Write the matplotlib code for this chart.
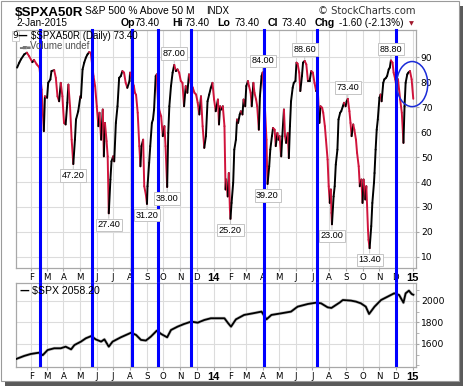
import matplotlib
matplotlib.use('Agg')
import matplotlib.pyplot as plt
import matplotlib.dates as mdates
from matplotlib.collections import LineCollection
from matplotlib.patches import Ellipse, Rectangle
import numpy as np
import pandas as pd

W, H = 464, 387

# S&P 500 % above 50-day MA
pct_dates = [
    '2013-01-06', '2013-01-10', '2013-01-13', '2013-01-19', '2013-01-24', '2013-01-28',
    '2013-02-03', '2013-02-06', '2013-02-11', '2013-02-16', '2013-02-20', '2013-02-24',
    '2013-02-26', '2013-03-02', '2013-03-04', '2013-03-08', '2013-03-10', '2013-03-15',
    '2013-03-18', '2013-03-21', '2013-03-24', '2013-03-27', '2013-03-30', '2013-04-02',
    '2013-04-05', '2013-04-08', '2013-04-10', '2013-04-13', '2013-04-16', '2013-04-19',
    '2013-04-22', '2013-04-24', '2013-04-28', '2013-05-02', '2013-05-03', '2013-05-06',
    '2013-05-09', '2013-05-12', '2013-05-15', '2013-05-18', '2013-05-21', '2013-05-26',
    '2013-05-29', '2013-06-01', '2013-06-04', '2013-06-06', '2013-06-09', '2013-06-12',
    '2013-06-14', '2013-06-16', '2013-06-19', '2013-06-21', '2013-06-23', '2013-06-26',
    '2013-06-28', '2013-07-01', '2013-07-03', '2013-07-06', '2013-07-09', '2013-07-12',
    '2013-07-15', '2013-07-18', '2013-07-21', '2013-07-24', '2013-07-27', '2013-07-31',
    '2013-08-01', '2013-08-08', '2013-08-10', '2013-08-12', '2013-08-15', '2013-08-18',
    '2013-08-20', '2013-08-22', '2013-08-25', '2013-08-27', '2013-08-30', '2013-09-01',
    '2013-09-02', '2013-09-05', '2013-09-07', '2013-09-10', '2013-09-12', '2013-09-14',
    '2013-09-17', '2013-09-19', '2013-09-21', '2013-09-24', '2013-09-27', '2013-09-30',
    '2013-10-03', '2013-10-05', '2013-10-08', '2013-10-10', '2013-10-12', '2013-10-15',
    '2013-10-18', '2013-10-21', '2013-10-24', '2013-10-27', '2013-10-30', '2013-11-02',
    '2013-11-05', '2013-11-08', '2013-11-11', '2013-11-14', '2013-11-17', '2013-11-20',
    '2013-11-24', '2013-11-27', '2013-11-30', '2013-12-03', '2013-12-06', '2013-12-09',
    '2013-12-12', '2013-12-15', '2013-12-18', '2013-12-21', '2013-12-24', '2013-12-27',
    '2013-12-30', '2014-01-02', '2014-01-05', '2014-01-09', '2014-01-11', '2014-01-13',
    '2014-01-16', '2014-01-18', '2014-01-21', '2014-01-23', '2014-01-24', '2014-01-27',
    '2014-01-29', '2014-01-31', '2014-02-01', '2014-02-03', '2014-02-06', '2014-02-08',
    '2014-02-11', '2014-02-13', '2014-02-15', '2014-02-18', '2014-02-20', '2014-02-23',
    '2014-02-25', '2014-02-28', '2014-03-02', '2014-03-05', '2014-03-07', '2014-03-10',
    '2014-03-12', '2014-03-15', '2014-03-17', '2014-03-20', '2014-03-22', '2014-03-25',
    '2014-03-27', '2014-03-30', '2014-04-01', '2014-04-05', '2014-04-08', '2014-04-09',
    '2014-04-10', '2014-04-13', '2014-04-15', '2014-04-18', '2014-04-20', '2014-04-23',
    '2014-04-25', '2014-04-28', '2014-04-30', '2014-05-02', '2014-05-05', '2014-05-07',
    '2014-05-10', '2014-05-12', '2014-05-14', '2014-05-17', '2014-05-19', '2014-05-21',
    '2014-05-23', '2014-05-26', '2014-05-28', '2014-05-31', '2014-06-02', '2014-06-04',
    '2014-06-07', '2014-06-09', '2014-06-12', '2014-06-14', '2014-06-17', '2014-06-20',
    '2014-06-23', '2014-06-26', '2014-06-29', '2014-07-02', '2014-07-05', '2014-07-08',
    '2014-07-11', '2014-07-14', '2014-07-16', '2014-07-19', '2014-07-21', '2014-07-24',
    '2014-07-26', '2014-07-29', '2014-07-31', '2014-08-02', '2014-08-04', '2014-08-05',
    '2014-08-06', '2014-08-09', '2014-08-11', '2014-08-13', '2014-08-16', '2014-08-18',
    '2014-08-21', '2014-08-23', '2014-08-26', '2014-08-28', '2014-08-31', '2014-09-02',
    '2014-09-04', '2014-09-07', '2014-09-09', '2014-09-11', '2014-09-14', '2014-09-16',
    '2014-09-19', '2014-09-21', '2014-09-24', '2014-09-26', '2014-09-29', '2014-10-01',
    '2014-10-03', '2014-10-06', '2014-10-08', '2014-10-11', '2014-10-12', '2014-10-14',
    '2014-10-17', '2014-10-19', '2014-10-22', '2014-10-23', '2014-10-25', '2014-10-27',
    '2014-10-29', '2014-11-01', '2014-11-03', '2014-11-05', '2014-11-08', '2014-11-10',
    '2014-11-13', '2014-11-15', '2014-11-18', '2014-11-20', '2014-11-22', '2014-11-25',
    '2014-11-27', '2014-11-30', '2014-12-02', '2014-12-05', '2014-12-07', '2014-12-09',
    '2014-12-12', '2014-12-15', '2014-12-17', '2014-12-19', '2014-12-22', '2014-12-24',
    '2014-12-27', '2014-12-30', '2015-01-02',
]
pct_values = [
    85.9, 87.9, 89.2, 91.2, 91.9, 90.5,
    88.1, 89.0, 87.2, 85.9, 77.1, 60.4,
    74.4, 73.8, 79.8, 81.2, 84.5, 84.9,
    81.8, 74.4, 72.4, 79.8, 74.4, 63.7,
    63.1, 71.8, 79.1, 70.4, 57.0, 47.2,
    57.0, 65.1, 68.4, 74.4, 73.8, 85.2,
    87.9, 89.9, 91.2, 92.1, 91.9, 82.5,
    78.5, 70.4, 62.4, 67.8, 57.0, 69.1,
    50.3, 63.7, 56.4, 50.3, 27.4, 41.0,
    48.3, 50.3, 48.3, 63.7, 70.4, 81.8,
    82.5, 84.5, 83.9, 79.8, 77.8, 80.5,
    83.9, 78.5, 75.8, 75.0, 67.8, 54.4,
    46.3, 54.4, 57.0, 38.3, 34.9, 31.2,
    38.3, 47.7, 54.4, 63.7, 65.1, 69.1,
    82.5, 83.2, 73.1, 68.4, 66.4, 58.4,
    62.4, 54.4, 38.0, 59.7, 70.4, 78.5,
    83.9, 87.0, 84.5, 85.2, 83.9, 80.5,
    79.8, 70.4, 78.5, 75.8, 83.2, 79.8,
    77.8, 75.8, 75.1, 71.8, 67.1, 74.4,
    62.4, 53.7, 58.4, 72.4, 75.1, 77.8,
    79.8, 73.1, 68.4, 73.1, 63.1, 70.4,
    69.1, 70.4, 62.4, 37.0, 41.0, 34.2,
    43.6, 28.9, 25.2, 31.6, 39.7, 53.0,
    57.0, 65.1, 63.7, 67.1, 68.4, 67.1,
    73.1, 70.4, 78.5, 80.5, 78.5, 75.8,
    70.4, 79.8, 75.8, 73.1, 70.4, 61.0,
    74.4, 82.5, 84.0, 70.4, 57.0, 46.3,
    39.2, 46.3, 53.0, 58.4, 61.7, 61.0,
    54.4, 59.7, 57.0, 58.4, 50.3, 58.4,
    69.1, 58.4, 55.7, 59.7, 49.6, 62.4,
    72.4, 77.8, 79.8, 80.5, 87.9, 87.5,
    83.9, 76.5, 82.5, 87.9, 88.6, 87.2,
    80.5, 80.5, 84.5, 83.9, 79.8, 76.5,
    77.1, 63.7, 70.4, 69.8, 67.8, 62.4,
    57.0, 49.0, 38.3, 31.6, 37.0, 27.6,
    23.0, 34.2, 38.3, 47.0, 53.0, 65.1,
    67.8, 68.4, 70.4, 71.8, 70.4, 72.4,
    73.4, 68.4, 63.7, 58.4, 63.1, 61.0,
    57.0, 51.7, 46.3, 38.3, 41.0, 31.6,
    41.0, 33.0, 38.3, 20.9, 16.8, 13.4,
    22.3, 31.6, 39.7, 43.6, 53.0, 61.0,
    65.1, 73.8, 75.1, 72.4, 79.8, 81.2,
    81.8, 82.5, 85.2, 85.9, 88.8, 87.9,
    83.9, 81.2, 78.5, 81.2, 77.1, 73.1,
    67.8, 55.7, 70.4, 79.8, 83.2, 83.9,
    84.5, 81.2, 73.4,
]

# $SPX close (lower panel)
spx_dates = [
    '2013-01-04', '2013-01-19', '2013-01-31', '2013-02-15', '2013-02-22', '2013-03-03',
    '2013-03-15', '2013-03-27', '2013-04-05', '2013-04-15', '2013-04-21', '2013-05-03',
    '2013-05-12', '2013-05-22', '2013-05-30', '2013-06-09', '2013-06-15', '2013-06-23',
    '2013-06-30', '2013-07-15', '2013-08-03', '2013-08-12', '2013-08-21', '2013-08-30',
    '2013-09-08', '2013-09-19', '2013-09-27', '2013-10-08', '2013-10-15', '2013-10-27',
    '2013-11-08', '2013-11-21', '2013-12-03', '2013-12-15', '2013-12-27', '2014-01-08',
    '2014-01-21', '2014-01-27', '2014-02-02', '2014-02-11', '2014-02-26', '2014-03-14',
    '2014-03-30', '2014-04-08', '2014-04-17', '2014-05-05', '2014-05-23', '2014-06-04',
    '2014-06-23', '2014-07-08', '2014-07-17', '2014-07-29', '2014-08-05', '2014-08-20',
    '2014-08-26', '2014-09-10', '2014-09-19', '2014-09-28', '2014-10-07', '2014-10-13',
    '2014-10-23', '2014-11-04', '2014-11-16', '2014-11-28', '2014-12-07', '2014-12-15',
    '2014-12-19', '2014-12-25', '2014-12-30', '2015-01-02',
]
spx_values = [
    1460, 1489, 1507, 1519, 1496, 1544,
    1560, 1560, 1575, 1550, 1590, 1622,
    1653, 1674, 1643, 1622, 1643, 1575,
    1622, 1662, 1705, 1684, 1638, 1632,
    1668, 1724, 1693, 1662, 1730, 1761,
    1786, 1808, 1798, 1823, 1839, 1839,
    1839, 1798, 1761, 1829, 1870, 1885,
    1901, 1829, 1870, 1885, 1901, 1947,
    1972, 1984, 1978, 1941, 1935, 1985,
    2009, 2003, 1994, 1978, 1947, 1879,
    1947, 2009, 2040, 2071, 2056, 1984,
    2071, 2096, 2065, 2058,
]

# value labels on peaks / troughs
label_dates = ['2013-04-19', '2013-06-23', '2013-09-01', '2013-10-08', '2013-10-21',
               '2014-02-01', '2014-04-01', '2014-04-10', '2014-06-17', '2014-08-06',
               '2014-09-04', '2014-10-14', '2014-11-22']
label_values = [47.2, 27.4, 31.2, 38.0, 87.0, 25.2, 84.0, 39.2, 88.6, 23.0, 73.4, 13.4, 88.8]
label_above = [False, False, False, False, True, False, True, False, True, False, True, False, True]

# hand-drawn blue vertical markers
mark_dates = ['2013-02-17', '2013-05-24', '2013-08-05', '2013-09-22', '2013-11-21',
              '2014-04-04', '2014-07-10', '2014-12-02']

RED = '#d0143c'
GRID = '#dcdcdc'
SPINE = '#a8a8a8'


def fx(p):
    return p / W


def fy(p):
    return 1 - p / H


fig = plt.figure(figsize=(W / 100, H / 100), dpi=100)
fig.patch.set_facecolor('white')

# frame with drop shadow
fig.patches.append(Rectangle((fx(5), fy(386)), fx(458), 380 / H, transform=fig.transFigure,
                             facecolor='#5a5a5a', edgecolor='none', zorder=-3))
fig.patches.append(Rectangle((fx(0.5), fy(381)), fx(458.5), 380.5 / H, transform=fig.transFigure,
                             facecolor='white', edgecolor='#9a9a9a', lw=0.8, zorder=-2))

ax = fig.add_axes([fx(16), fy(268), 400 / W, 238 / H])
ax2 = fig.add_axes([fx(16), fy(367), 400 / W, 84 / H])

xlim = mdates.date2num(pd.to_datetime(['2013-01-04', '2015-01-07']))
month_ticks = pd.date_range('2013-02-01', '2015-01-01', freq='MS')
tick_labels = [('%02d' % (d.year % 100)) if d.month == 1 else d.strftime('%b')[0] for d in month_ticks]

# top panel: up days black, down days red
xs = mdates.date2num(pd.to_datetime(pct_dates))
ys = np.array(pct_values)
pts = np.column_stack([xs, ys])
segs = np.stack([pts[:-1], pts[1:]], axis=1)
cols = np.where(np.diff(ys) >= 0, 'black', RED)
lc = LineCollection(segs, colors=cols, linewidths=1.4, capstyle='round', joinstyle='round', zorder=3)
ax.add_collection(lc)
ax.set_ylim(5.5, 101)
ax.set_yticks(range(10, 100, 10))

# lower panel
sx = mdates.date2num(pd.to_datetime(spx_dates))
ax2.plot(sx, spx_values, color='#c0c0c0', lw=2.2, zorder=2, solid_joinstyle='round')
ax2.plot(sx, spx_values, color='black', lw=1.3, zorder=3, solid_joinstyle='round')
ax2.set_ylim(1386, 2167)
ax2.set_yticks([1600, 1800, 2000])
ax2.set_yticks(range(1400, 2200, 100), minor=True)

for a in (ax, ax2):
    a.set_xlim(*xlim)
    a.set_xticks(mdates.date2num(month_ticks))
    a.set_xticklabels(tick_labels)
    a.grid(True, color=GRID, lw=0.8, zorder=0)
    a.set_axisbelow(True)
    a.yaxis.tick_right()
    a.tick_params(axis='both', which='both', length=2, color=SPINE, labelsize=6.6, pad=1.5)
    a.tick_params(axis='x', labelsize=6.2, pad=1.5)
    for s in a.spines.values():
        s.set_color(SPINE)
        s.set_linewidth(0.9)
    for t in a.get_xticklabels():
        if t.get_text().isdigit():
            t.set_fontweight('bold')
            t.set_fontsize(8)
            t.set_fontfamily('Liberation Sans')

# blue markers spanning both panels
gap = 15 / 238
for d in pd.to_datetime(mark_dates):
    ax.axvline(d, ymin=-gap, ymax=1, color='#0000ff', lw=2.2, clip_on=False, zorder=6)
    ax2.axvline(d, color='#0000ff', lw=2.2, zorder=6)

# circle around the latest bounce
cx = mdates.date2num(pd.Timestamp('2014-12-31'))
ax.add_patch(Ellipse((cx, 79.3), width=57, height=18.1, fill=False, edgecolor='#1a2bd8',
                     lw=1.1, clip_on=False, zorder=7))

# peak / trough labels
for d, v, up in zip(pd.to_datetime(label_dates), label_values, label_above):
    ax.annotate('%.2f' % v, xy=(mdates.date2num(d), v), xytext=(0, 8.2 if up else -8.2),
                textcoords='offset points', ha='center', va='center', fontsize=6.6,
                family='Liberation Sans', zorder=8,
                bbox=dict(boxstyle='square,pad=0.18', fc='white', ec='#c4c4c4', lw=0.7),
                arrowprops=dict(arrowstyle='-', color='#c4c4c4', lw=0.7, shrinkA=0, shrinkB=1))

# legends inside panels
fig.text(fx(12.5), fy(36), '9', fontsize=6.6, va='center', ha='left',
         bbox=dict(boxstyle='square,pad=0.1', fc='white', ec='#c8c8c8', lw=0.6))
fig.text(fx(18), fy(35.5), '\u2014', fontsize=7, va='center', ha='left', fontweight='bold')
fig.text(fx(31.5), fy(36), '$SPXA50R (Daily) 73.40', fontsize=7, va='center', ha='left',
         family='Liberation Sans')
fig.text(fx(19), fy(46.5), '\u2583\u2585\u2584', fontsize=3.6, va='center', ha='left', color='#777777')
fig.text(fx(30), fy(46), 'Volume undef', fontsize=7, va='center', ha='left',
         family='Liberation Sans', color='#505050')
fig.text(fx(19.5), fy(290.5), '\u2014', fontsize=7, va='center', ha='left', fontweight='bold')
fig.text(fx(32), fy(291), '$SPX 2058.20', fontsize=7.6, va='center', ha='left',
         family='Liberation Sans')

# header
fig.text(fx(15), fy(15.5), '$SPXA50R', fontsize=9.6, fontweight='bold', family='Liberation Sans',
         va='baseline', ha='left')
fig.text(fx(85), fy(14.5), 'S&P 500 % Above 50 M', fontsize=7.4, family='Liberation Sans',
         va='baseline', ha='left')
fig.text(fx(206), fy(14.5), 'INDX', fontsize=7.0, family='Liberation Sans', va='baseline', ha='left')
fig.text(fx(416), fy(14.5), '\u00a9 StockCharts.com', fontsize=7.2, color='#333333',
         va='baseline', ha='right')

fig.text(fx(16), fy(26.5), '2-Jan-2015', fontsize=7.2, family='Liberation Sans', va='baseline', ha='left')
row2 = [('Op', 121, 135), ('Hi', 172, 185), ('Lo', 217, 235), ('Cl', 268, 282)]
for name, xb, xv in row2:
    fig.text(fx(xb), fy(26.5), name, fontsize=7.6, fontweight='bold', family='Liberation Sans',
             va='baseline', ha='left')
    fig.text(fx(xv), fy(26.5), '73.40', fontsize=7.2, family='Liberation Sans', va='baseline', ha='left')
fig.text(fx(315), fy(26.5), 'Chg', fontsize=7.6, fontweight='bold', family='Liberation Sans',
         va='baseline', ha='left')
fig.text(fx(339), fy(26.5), '-1.60 (-2.13%)', fontsize=7.2, family='Liberation Sans',
         va='baseline', ha='left')
fig.text(fx(409), fy(24), '\u25bc', fontsize=4.6, color='#a0182c', va='center', ha='left')

fig.savefig('out.png', dpi=100, facecolor='white')
